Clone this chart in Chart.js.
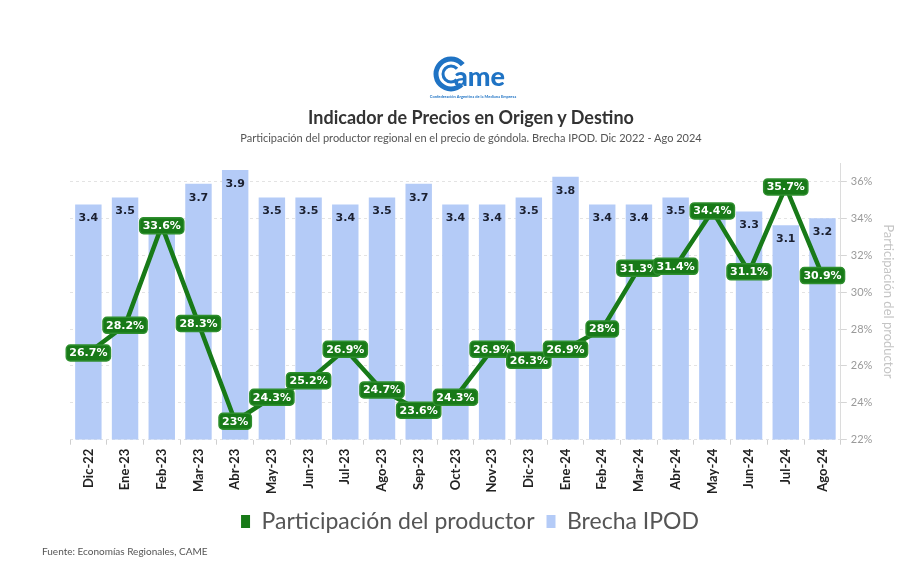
<!DOCTYPE html>
<html>
<head>
<meta charset="utf-8">
<script src="https://cdn.jsdelivr.net/npm/chart.js@4.4.1/dist/chart.umd.min.js"></script>
<style>
  body { margin: 0; background: #fff; font-family: Lato, sans-serif; }
  #wrap { position: relative; width: 922px; height: 570px; }
  #logo { position: absolute; left: 425px; top: 56px; width: 96px; text-align: center; }
  #title { position: absolute; left: 0; width: 942px; top: 106px; text-align: center;
           font: bold 18px Lato, sans-serif; color: #333; }
  #subtitle { position: absolute; left: 0; width: 942px; top: 131px; text-align: center;
              font: 11px Lato, sans-serif; color: #555; }
  #source { position: absolute; left: 42px; top: 545px; font: 10px Lato, sans-serif; color: #555; }
  canvas { position: absolute; left: 0; top: 0; }
</style>
</head>
<body>
<div id="wrap">
  <canvas id="chart" width="922" height="570"></canvas>
  <div id="logo">
    <svg width="96" height="44" viewBox="0 0 96 44">
      <circle cx="26" cy="18" r="15" fill="none" stroke="#1f73c4" stroke-width="5" stroke-dasharray="72 30" transform="rotate(45 26 18)"/>
      <circle cx="26" cy="18" r="8" fill="none" stroke="#1f73c4" stroke-width="3" stroke-dasharray="38 14" transform="rotate(45 26 18)"/>
      <text x="29" y="30" font-family="Lato" font-weight="900" font-size="27" fill="#1f73c4">ame</text>
      <text x="48" y="42" text-anchor="middle" font-family="Lato" font-weight="bold" font-size="4" fill="#1f73c4">Confederación Argentina de la Mediana Empresa</text>
    </svg>
  </div>
  <div id="title">Indicador de Precios en Origen y Destino</div>
  <div id="subtitle">Participación del productor regional en el precio de góndola. Brecha IPOD. Dic 2022 - Ago 2024</div>
  <div id="source">Fuente: Economías Regionales, CAME</div>
</div>
<script>
const meses = ['Dic-22','Ene-23','Feb-23','Mar-23','Abr-23','May-23','Jun-23','Jul-23','Ago-23','Sep-23','Oct-23',
  'Nov-23','Dic-23','Ene-24','Feb-24','Mar-24','Abr-24','May-24','Jun-24','Jul-24','Ago-24'];
const participacion = [26.7, 28.2, 33.6, 28.3, 23, 24.3, 25.2, 26.9, 24.7, 23.6, 24.3,
  26.9, 26.3, 26.9, 28, 31.3, 31.4, 34.4, 31.1, 35.7, 30.9];
const brecha = [3.4, 3.5, 3.2, 3.7, 3.9, 3.5, 3.5, 3.4, 3.5, 3.7, 3.4,
  3.4, 3.5, 3.8, 3.4, 3.4, 3.5, 3.4, 3.3, 3.1, 3.2];
const ticksDerecha = [22, 24, 26, 28, 30, 32, 34, 36];

const verde = '#187a18';
const azul = '#b4cbf7';

function roundRect(ctx, x, y, w, h, r) {
    ctx.beginPath();
    ctx.moveTo(x + r, y);
    ctx.arcTo(x + w, y, x + w, y + h, r);
    ctx.arcTo(x + w, y + h, x, y + h, r);
    ctx.arcTo(x, y + h, x, y, r);
    ctx.arcTo(x, y, x + w, y, r);
    ctx.closePath();
}

// etiquetas de datos (sin plugin externo)
const etiquetas = {
    id: 'etiquetas',
    afterDatasetsDraw(chart) {
        const ctx = chart.ctx;
        const lineMeta = chart.getDatasetMeta(0);
        const barMeta = chart.getDatasetMeta(1);
        ctx.save();
        ctx.font = 'bold 11px "DejaVu Sans"';
        ctx.textAlign = 'center';
        ctx.textBaseline = 'middle';
        const cajas = lineMeta.data.map((p, i) => {
            const txt = participacion[i] + '%';
            const w = ctx.measureText(txt).width + 6;
            return { x: p.x - w / 2, y: p.y - 8, w: w, h: 16, txt: txt, cx: p.x, cy: p.y };
        });
        // valores de las barras
        ctx.fillStyle = '#1b2030';
        barMeta.data.forEach((b, i) => {
            const ty = b.y + 14;
            const bw = 24;
            const choca = cajas.some(c => b.x + bw / 2 > c.x && b.x - bw / 2 < c.x + c.w && ty + 7 > c.y && ty - 7 < c.y + c.h);
            if (!choca) ctx.fillText(brecha[i].toFixed(1), b.x, ty);
        });
        // etiquetas de la linea
        cajas.forEach(c => {
            roundRect(ctx, c.x, c.y, c.w, c.h, 4);
            ctx.fillStyle = verde;
            ctx.fill();
            ctx.lineWidth = 1.5;
            ctx.strokeStyle = '#2f8f2f';
            ctx.stroke();
            ctx.fillStyle = '#fff';
            ctx.fillText(c.txt, c.cx, c.cy + 0.5);
        });
        ctx.restore();
    }
};

new Chart(document.getElementById('chart'), {
    data: {
        labels: meses,
        datasets: [{
            type: 'line',
            label: 'Participación del productor',
            data: participacion,
            yAxisID: 'y1',
            borderColor: verde,
            backgroundColor: verde,
            borderWidth: 4.5,
            pointRadius: 0,
            tension: 0,
            order: 0
        }, {
            type: 'bar',
            label: 'Brecha IPOD',
            data: brecha,
            yAxisID: 'y',
            backgroundColor: azul,
            categoryPercentage: 1,
            barPercentage: 0.72,
            order: 1
        }]
    },
    options: {
        responsive: false,
        animation: false,
        layout: { padding: { left: 40, right: 22, top: 163, bottom: 27 } },
        scales: {
            x: {
                grid: { display: true, drawOnChartArea: false, tickLength: 5, color: '#cfcfcf' },
                border: { display: false },
                ticks: {
                    maxRotation: 90, minRotation: 90, padding: 4,
                    color: '#222', font: { family: 'Lato', weight: 'bold', size: 13 }
                }
            },
            y: {
                position: 'left',
                min: 0,
                max: 4,
                grid: { display: false },
                border: { display: false },
                ticks: { display: false },
                afterFit(axis) { axis.width = 30; }
            },
            y1: {
                position: 'right',
                min: 22,
                max: 37,
                afterBuildTicks(axis) {
                    axis.ticks = ticksDerecha.map(v => ({ value: v }));
                },
                grid: { color: '#e3e3e3', tickLength: 6, tickColor: '#d5d5d5' },
                border: { display: true, color: '#dcdcdc', dash: [3, 3] },
                ticks: {
                    color: '#9a9a9a', padding: 4,
                    font: { family: 'Lato', size: 11 },
                    callback: v => v + '%'
                },
                title: {
                    display: true,
                    text: 'Participación del productor',
                    color: '#c4c4c4',
                    font: { family: 'Lato', size: 13 }
                }
            }
        },
        plugins: {
            title: { display: false },
            tooltip: { enabled: false },
            legend: {
                position: 'bottom',
                labels: {
                    color: '#555',
                    font: { family: 'Lato', size: 23 },
                    boxWidth: 9,
                    boxHeight: 13,
                    padding: 12,
                    generateLabels(chart) {
                        return chart.data.datasets.map((ds, i) => ({
                            text: ds.label,
                            fillStyle: i === 0 ? verde : azul,
                            strokeStyle: i === 0 ? verde : azul,
                            lineWidth: 0,
                            fontColor: '#555',
                            datasetIndex: i
                        }));
                    }
                }
            }
        }
    },
    plugins: [etiquetas]
});
</script>
</body>
</html>
